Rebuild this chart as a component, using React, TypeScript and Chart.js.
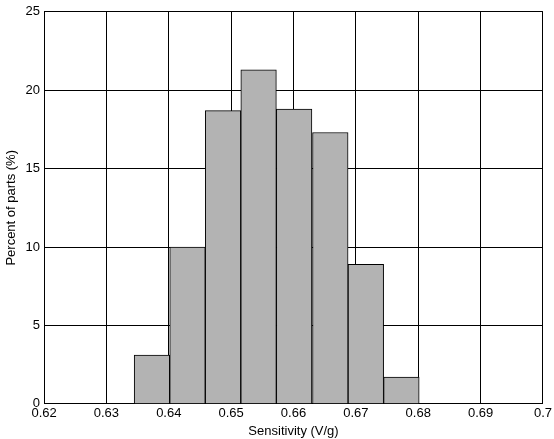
import { useEffect, useRef } from 'react';
import Chart from 'chart.js/auto';

const binCenters = [0.6373, 0.6430, 0.6487, 0.6544, 0.6601, 0.6659, 0.6716, 0.6773];
const percents = [3.1, 10.0, 18.7, 21.3, 18.8, 17.3, 8.9, 1.7];
const xTicks = [0.62, 0.63, 0.64, 0.65, 0.66, 0.67, 0.68, 0.69, 0.7];

const App = () => {
  const canvasRef = useRef<HTMLCanvasElement>(null);

  useEffect(() => {
    document.body.style.margin = '0';
    if (!canvasRef.current) return;
    const font = { family: 'Liberation Sans, Arial, sans-serif', size: 13 };
    const chart = new Chart(canvasRef.current, {
      type: 'bar',
      data: {
        datasets: [
          {
            data: binCenters.map((x, i) => ({ x, y: percents[i] })),
            backgroundColor: '#b3b3b3',
            borderColor: '#000',
            borderWidth: 1,
            barPercentage: 1,
            categoryPercentage: 1,
          },
        ],
      },
      options: {
        animation: false,
        responsive: false,
        layout: { padding: { top: 8, right: 9, left: 2, bottom: 0 } },
        plugins: { legend: { display: false }, tooltip: { enabled: false } },
        scales: {
          x: {
            type: 'linear',
            offset: false,
            min: 0.62,
            max: 0.7,
            afterBuildTicks: (axis: any) => {
              axis.ticks = xTicks.map((v) => ({ value: v }));
            },
            ticks: { color: '#000', font, padding: 2, maxRotation: 0, callback: (v: any) => String(Number(v)) },
            grid: { color: '#000', lineWidth: 1, tickLength: 0, offset: false },
            border: { color: '#000' },
            title: { display: true, text: 'Sensitivity (V/g)', color: '#000', font, padding: 0 },
          },
          y: {
            min: 0,
            max: 25,
            ticks: { stepSize: 5, color: '#000', font, padding: 4 },
            grid: { color: '#000', lineWidth: 1, tickLength: 0 },
            border: { color: '#000' },
            title: { display: true, text: 'Percent of parts (%)', color: '#000', font, padding: 2 },
          },
        },
      },
    });
    return () => chart.destroy();
  }, []);

  return <canvas ref={canvasRef} width={554} height={439} />;
};

export default App;
